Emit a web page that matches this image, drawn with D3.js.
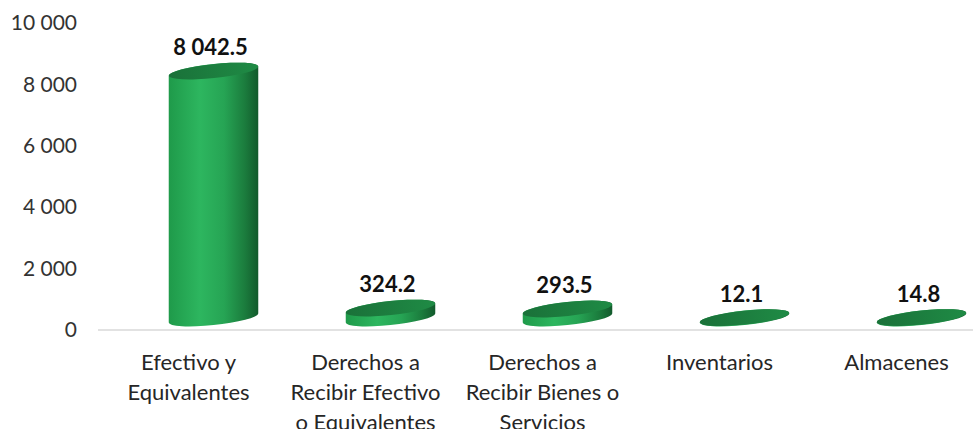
<!DOCTYPE html>
<html>
<head>
<meta charset="utf-8">
<script src="https://cdn.jsdelivr.net/npm/d3@7"></script>
<style>
  body { margin: 0; background: #fff; }
  svg { display: block; font-family: Lato, "Open Sans", sans-serif; }
</style>
</head>
<body>
<script>
var width = 973,
    height = 429;

// data
var categories = ["Efectivo y Equivalentes", "Derechos a Recibir Efectivo o Equivalentes",
                  "Derechos a Recibir Bienes o Servicios", "Inventarios", "Almacenes"];
var labelLines = [["Efectivo y", "Equivalentes"],
                  ["Derechos a", "Recibir Efectivo", "o Equivalentes"],
                  ["Derechos a", "Recibir Bienes o", "Servicios"],
                  ["Inventarios"],
                  ["Almacenes"]];
var values = [8042.5, 324.2, 293.5, 12.1, 14.8];
var yTicks = [0, 2000, 4000, 6000, 8000, 10000];

var locale = d3.formatLocale({ decimal: ".", thousands: " ", grouping: [3], currency: ["", ""] });
var tickFmt = locale.format(",");
var valFmt = locale.format(",.1f");

var depthX = 25, depthY = 12;   // 3d offset of the bars
var rx = 45, ry = 7, tilt = -6;  // ellipse shape

var x = d3.scaleBand()
  .domain(categories)
  .range([100, 985]);

var y = d3.scaleLinear()
  .domain([0, 10000])
  .range([330, 23]);

var svg = d3.select("body").append("svg")
  .attr("width", width)
  .attr("height", height);

var defs = svg.append("defs");
var sideGrad = defs.append("linearGradient").attr("id", "side").attr("x1", 0).attr("x2", 1);
[["0%", "#1f9a4a"], ["35%", "#2db65f"], ["62%", "#26a454"], ["85%", "#1b7c3d"], ["100%", "#125a2c"]]
  .forEach(function(s) { sideGrad.append("stop").attr("offset", s[0]).attr("stop-color", s[1]); });
var topGrad = defs.append("linearGradient").attr("id", "topface").attr("x1", 0).attr("x2", 1);
[["0%", "#1a7139"], ["100%", "#1f8b45"]]
  .forEach(function(s) { topGrad.append("stop").attr("offset", s[0]).attr("stop-color", s[1]); });

// y axis
svg.append("g")
  .attr("transform", "translate(80,0)")
  .call(d3.axisLeft(y).tickValues(yTicks).tickSize(0).tickPadding(3).tickFormat(tickFmt))
  .call(function(g) { g.select(".domain").remove(); })
  .selectAll("text")
    .attr("font-family", "Lato")
    .attr("font-size", 21)
    .attr("fill", "#333");

svg.append("line")
  .attr("x1", 98).attr("x2", width)
  .attr("y1", y(0)).attr("y2", y(0))
  .attr("stroke", "#d9d9d9")
  .attr("stroke-width", 1.5);

// points where the rotated ellipse has a vertical tangent
var th = tilt * Math.PI / 180;
var t0 = Math.atan2(-ry * Math.sin(th), rx * Math.cos(th));
function pt(cx, cy, t) {
  return [cx + rx * Math.cos(t) * Math.cos(th) - ry * Math.sin(t) * Math.sin(th),
          cy + rx * Math.cos(t) * Math.sin(th) + ry * Math.sin(t) * Math.cos(th)];
}
function tangents(cx, cy) {
  var a = pt(cx, cy, t0), b = pt(cx, cy, t0 + Math.PI);
  return a[0] < b[0] ? [a, b] : [b, a];
}

var bars = svg.append("g").selectAll("g")
  .data(values)
  .enter().append("g");

bars.append("path")
  .attr("fill", "url(#side)")
  .attr("d", function(d, i) {
    var cx = x(categories[i]) + x.bandwidth() / 2 + depthX,
        yb = y(0) - depthY, yt = y(d) - depthY;
    var b = tangents(cx, yb), t = tangents(cx, yt);
    return "M" + t[0] + "L" + b[0] +
      "A" + rx + "," + ry + " " + tilt + " 0 0 " + b[1] +
      "L" + t[1] +
      "A" + rx + "," + ry + " " + tilt + " 0 0 " + t[0] + "Z";
  });

bars.append("ellipse")
  .attr("fill", "url(#topface)")
  .attr("rx", rx).attr("ry", ry)
  .attr("transform", function(d, i) {
    var cx = x(categories[i]) + x.bandwidth() / 2 + depthX;
    return "translate(" + cx + "," + (y(d) - depthY) + ") rotate(" + tilt + ")";
  });

bars.append("text")
  .attr("x", function(d, i) { return x(categories[i]) + x.bandwidth() / 2 + depthX - 3; })
  .attr("y", function(d) { return y(d) - depthY - 16; })
  .attr("text-anchor", "middle")
  .attr("font-size", 22)
  .attr("font-weight", "bold")
  .attr("fill", "#111")
  .text(function(d) { return valFmt(d); });

// category labels
svg.append("g").selectAll("text")
  .data(categories)
  .enter().append("text")
    .attr("x", function(d) { return x(d) + x.bandwidth() / 2; })
    .attr("y", 370)
    .attr("text-anchor", "middle")
    .attr("font-size", 22)
    .attr("fill", "#262626")
    .each(function(d, i) {
      var t = d3.select(this);
      labelLines[i].forEach(function(l, j) {
        t.append("tspan")
          .attr("x", x(d) + x.bandwidth() / 2)
          .attr("dy", j ? 30 : 0)
          .text(l);
      });
    });
</script>
</body>
</html>
